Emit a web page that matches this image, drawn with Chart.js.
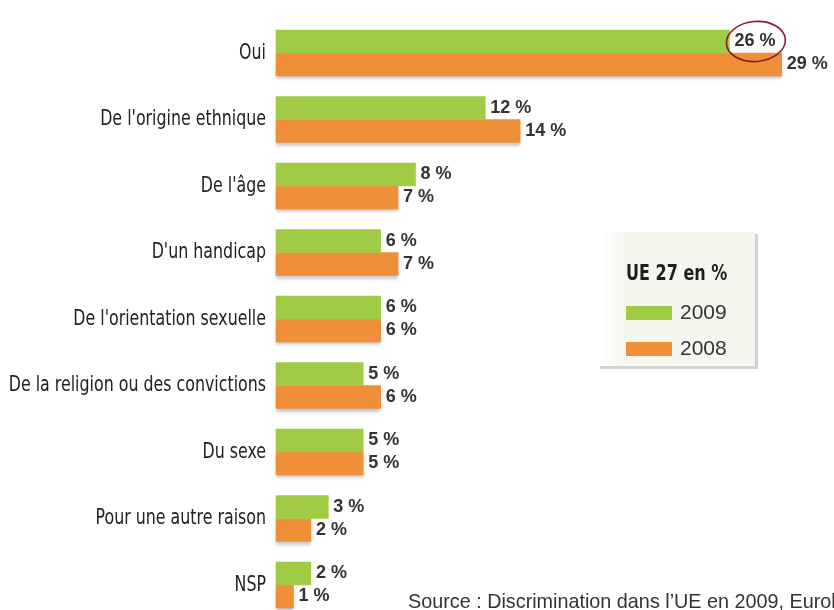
<!DOCTYPE html>
<html>
<head>
<meta charset="utf-8">
<script src="https://cdn.jsdelivr.net/npm/chart.js@4/dist/chart.umd.min.js"></script>
<style>
  html, body { margin: 0; padding: 0; background: #ffffff; overflow: hidden; }
  #wrap { position: relative; width: 834px; height: 610px; }
</style>
</head>
<body>
<div id="wrap"><canvas id="discriChart" width="834" height="610"></canvas></div>
<script>
// data
var categories = ["Oui", "De l'origine ethnique", "De l'âge", "D'un handicap",
    "De l'orientation sexuelle", "De la religion ou des convictions",
    "Du sexe", "Pour une autre raison", "NSP"];
var values2009 = [26, 12, 8, 6, 6, 5, 5, 3, 2];
var values2008 = [29, 14, 7, 7, 6, 6, 5, 2, 1];
var seriesLabels = ['2009', '2008'];
var legendTitle = 'UE 27 en %';
var sourceText = 'Source : Discrimination dans l\u2019UE en 2009, Eurobaromètre spécial 317';

var green = '#a0cc45';
var orange = '#ef8f38';
var condensed = "'DejaVu Sans Condensed', 'DejaVu Sans', sans-serif";
var plain = "'Liberation Sans', Arial, sans-serif";

// the original uses a condensed face; squeeze DejaVu Condensed a bit more
function squeezedText(ctx, txt, x, y, sx) {
    ctx.save();
    ctx.translate(x, y);
    ctx.scale(sx, 1);
    ctx.fillText(txt, 0, 0);
    ctx.restore();
}

// soft shadow under the lower (orange) bars
var barShadow = {
    id: 'barShadow',
    beforeDatasetDraw: function (chart, args) {
        if (args.index !== 1) return;
        var ctx = chart.ctx;
        ctx.save();
        ctx.shadowColor = 'rgba(90,90,110,0.35)';
        ctx.shadowBlur = 3;
        ctx.shadowOffsetY = 3;
    },
    afterDatasetDraw: function (chart, args) {
        if (args.index !== 1) return;
        chart.ctx.restore();
    }
};

// category names at the left, placed by the y scale
var categoryLabels = {
    id: 'categoryLabels',
    afterDraw: function (chart) {
        var ctx = chart.ctx;
        var yScale = chart.scales.y;
        ctx.save();
        ctx.font = '22px ' + condensed;
        ctx.fillStyle = '#222222';
        ctx.textAlign = 'right';
        ctx.textBaseline = 'middle';
        chart.data.labels.forEach(function (lab, i) {
            squeezedText(ctx, lab, chart.chartArea.left - 10, yScale.getPixelForValue(i), 0.8);
        });
        ctx.restore();
    }
};

// value labels after each bar, plus the circled one
var valueLabels = {
    id: 'valueLabels',
    afterDatasetsDraw: function (chart) {
        var ctx = chart.ctx;
        ctx.save();
        ctx.font = 'bold 18px ' + plain;
        ctx.fillStyle = '#333333';
        ctx.textBaseline = 'middle';
        ctx.textAlign = 'left';
        chart.data.datasets.forEach(function (ds, di) {
            var meta = chart.getDatasetMeta(di);
            meta.data.forEach(function (bar, i) {
                var txt = ds.data[i] + ' %';
                var tx = bar.x + 5;
                ctx.fillText(txt, tx, bar.y);
                if (di === 0 && i === 0) {
                    var w = ctx.measureText(txt).width;
                    ctx.save();
                    ctx.strokeStyle = '#8c1c2c';
                    ctx.lineWidth = 1.6;
                    ctx.beginPath();
                    ctx.ellipse(tx + w / 2 + 1, bar.y, w / 2 + 9, 20, -0.08, 0, Math.PI * 2);
                    ctx.stroke();
                    ctx.restore();
                }
            });
        });
        ctx.restore();
    }
};

// boxed legend on the right and source line
var boxLegend = {
    id: 'boxLegend',
    afterDraw: function (chart) {
        var ctx = chart.ctx;
        ctx.save();
        var bx = 600, by = 232, bw = 155, bh = 134;
        var grad = ctx.createLinearGradient(bx, 0, bx + 25, 0);
        grad.addColorStop(0, 'rgba(246,245,238,0)');
        grad.addColorStop(1, '#f6f5ee');
        ctx.fillStyle = grad;
        ctx.fillRect(bx, by, bw, bh);
        ctx.fillStyle = '#d2d2d2';
        ctx.fillRect(bx + bw, by + 2, 3, bh);
        ctx.fillRect(bx, by + bh, bw + 3, 3);

        ctx.fillStyle = '#1e1e1e';
        ctx.textBaseline = 'alphabetic';
        ctx.textAlign = 'left';
        ctx.font = 'bold 22px ' + condensed;
        squeezedText(ctx, legendTitle, 626, 280, 0.81);

        ctx.font = '21px ' + plain;
        chart.data.datasets.forEach(function (ds, di) {
            var y = 306 + di * 36;
            ctx.fillStyle = ds.backgroundColor;
            ctx.fillRect(626, y, 46, 14);
            ctx.fillStyle = '#333333';
            ctx.textBaseline = 'middle';
            ctx.fillText(ds.label, 680, y + 7);
        });

        ctx.font = '19.8px ' + plain;
        ctx.fillStyle = '#333333';
        ctx.textBaseline = 'alphabetic';
        ctx.fillText(sourceText, 408, 608);
        ctx.restore();
    }
};

var ctx = document.getElementById('discriChart').getContext('2d');
var discriChart = new Chart(ctx, {
    type: 'bar',
    data: {
        labels: categories,
        datasets: [{
            label: seriesLabels[0],
            data: values2009,
            backgroundColor: green,
            barThickness: 23,
            clip: false
        }, {
            label: seriesLabels[1],
            data: values2008,
            backgroundColor: orange,
            barThickness: 23,
            clip: false
        }]
    },
    options: {
        indexAxis: 'y',
        responsive: false,
        animation: false,
        layout: { padding: { top: 53, bottom: 25, left: 276, right: 0 } },
        plugins: {
            legend: { display: false },
            tooltip: { enabled: false }
        },
        scales: {
            x: {
                display: false,
                min: 0,
                max: 32
            },
            y: {
                display: false,
                offset: false
            }
        }
    },
    plugins: [barShadow, valueLabels, categoryLabels, boxLegend]
});
</script>
</body>
</html>
